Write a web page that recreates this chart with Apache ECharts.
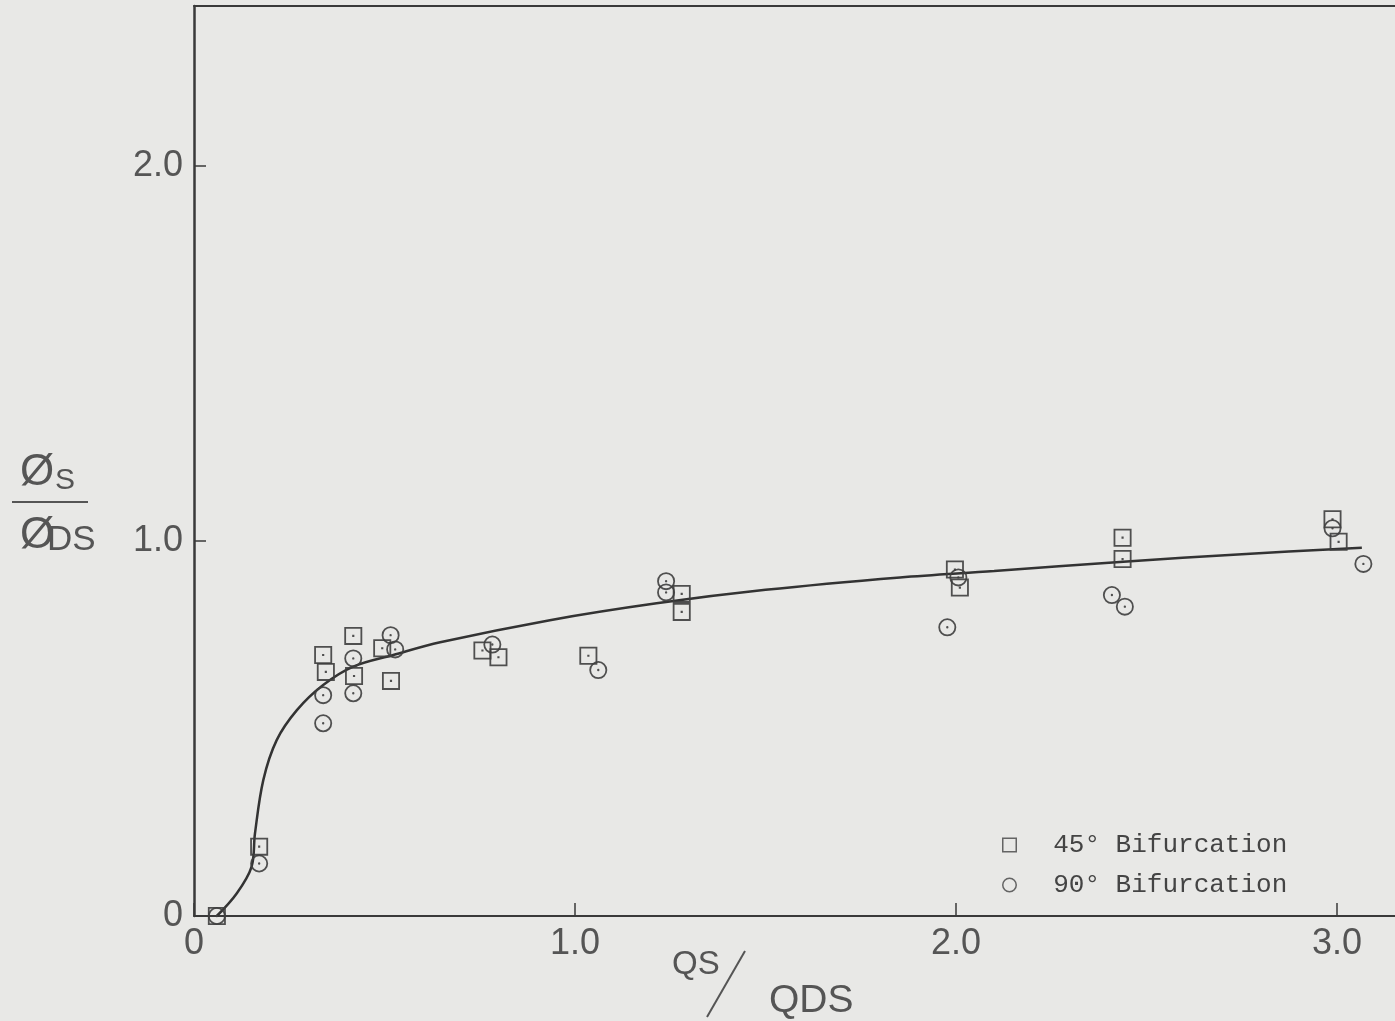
<!DOCTYPE html>
<html>
<head>
<meta charset="utf-8">
<script src="https://cdn.jsdelivr.net/npm/echarts@6/dist/echarts.min.js"></script>
<style>
html,body{margin:0;padding:0;background:#e8e8e6;}
#c{width:1395px;height:1021px;}
</style>
</head>
<body>
<div id="c"></div>
<script>
// ---- data ----
const xTicks = [0, 1.0, 2.0, 3.0];
const yTicks = [0, 1.0, 2.0];
const legendNames = ['45° Bifurcation', '90° Bifurcation'];

// 45° bifurcation (squares): [Qs/Qds, Øs/Øds]
const bif45 = [
  [0.06, 0.0], [0.171, 0.185], [0.339, 0.696], [0.346, 0.651], [0.418, 0.747],
  [0.42, 0.64], [0.494, 0.714], [0.517, 0.627], [0.757, 0.708], [0.799, 0.69],
  [1.035, 0.694], [1.28, 0.859], [1.28, 0.811], [1.997, 0.924], [2.01, 0.876],
  [2.437, 1.009], [2.437, 0.952], [2.988, 1.058], [3.004, 0.998]
];
// 90° bifurcation (circles)
const bif90 = [
  [0.06, 0.0], [0.171, 0.14], [0.339, 0.589], [0.339, 0.514], [0.418, 0.687],
  [0.418, 0.594], [0.516, 0.749], [0.528, 0.711], [0.783, 0.724], [1.061, 0.656],
  [1.239, 0.893], [1.239, 0.863], [2.006, 0.903], [1.977, 0.77], [2.409, 0.856],
  [2.443, 0.825], [2.988, 1.034], [3.069, 0.939]
];
// hand-drawn fitted curve
const curveX = [0.06, 0.112, 0.151, 0.16, 0.182, 0.217, 0.27, 0.339, 0.418, 0.523, 0.646, 0.934, 1.214, 1.5, 1.853, 2.1, 2.439, 2.75, 3.065];
const curveY = [0.0, 0.06, 0.131, 0.22, 0.363, 0.469, 0.549, 0.616, 0.665, 0.696, 0.73, 0.789, 0.834, 0.87, 0.903, 0.92, 0.945, 0.965, 0.982];

// ---- symbols ----
const ink = '#3a3a3a';
const sqSym = 'path://M0,0 H20 V20 H0 Z M2,2 V18 H18 V2 Z M8.8,8.8 H11.2 V11.2 H8.8 Z';
const ciSym = 'path://M10,0 A10,10 0 1,1 10,20 A10,10 0 1,1 10,0 Z M10,2 A8,8 0 1,0 10,18 A8,8 0 1,0 10,2 Z M10,8.7 A1.3,1.3 0 1,1 10,11.3 A1.3,1.3 0 1,1 10,8.7 Z';
const sqLeg = 'path://M0,0 H20 V20 H0 Z M2,2 V18 H18 V2 Z';
const ciLeg = 'path://M10,0 A10,10 0 1,1 10,20 A10,10 0 1,1 10,0 Z M10,2 A8,8 0 1,0 10,18 A8,8 0 1,0 10,2 Z';

const chart = echarts.init(document.getElementById('c'), null, {renderer: 'canvas'});
const lblFont = 'Liberation Sans';
const tickFmt = v => (Math.abs(v) < 1e-9 ? '0' : v.toFixed(1));
chart.setOption({
  backgroundColor: '#e8e8e6',
  animation: false,
  grid: {left: 194, top: 6, right: 0, bottom: 105},
  xAxis: [{
    type: 'value', min: 0, max: 3.152, interval: 1,
    axisLine: {show: true, onZero: false, lineStyle: {color: ink, width: 2}},
    axisTick: {show: true, inside: true, length: 13, customValues: xTicks, lineStyle: {color: ink, width: 1.5}},
    splitLine: {show: false},
    axisLabel: {margin: 10, color: '#555', fontSize: 36, fontFamily: lblFont, customValues: xTicks, formatter: tickFmt}
  }, {
    type: 'value', position: 'top', min: 0, max: 3.152, interval: 1,
    axisLine: {show: true, onZero: false, lineStyle: {color: ink, width: 2}},
    axisTick: {show: false}, axisLabel: {show: false}, splitLine: {show: false}
  }],
  yAxis: {
    type: 'value', min: 0, max: 2.427, interval: 1,
    axisLine: {show: true, onZero: false, lineStyle: {color: ink, width: 2.5}},
    axisTick: {show: true, inside: true, length: 12, customValues: yTicks, lineStyle: {color: ink, width: 1.5}},
    splitLine: {show: false},
    axisLabel: {margin: 11, color: '#555', fontSize: 36, fontFamily: lblFont, customValues: yTicks, formatter: tickFmt}
  },
  legend: {
    orient: 'vertical', left: 997, top: 827, itemGap: 14, itemWidth: 15, itemHeight: 15,
    textStyle: {fontFamily: 'Liberation Mono', fontSize: 26, color: '#444'},
    formatter: n => '  ' + n,
    data: [
      {name: legendNames[0], icon: sqLeg, itemStyle: {color: '#555'}},
      {name: legendNames[1], icon: ciLeg, itemStyle: {color: '#555'}}
    ]
  },
  series: [
    {
      name: 'curve', type: 'line', smooth: 0.35, showSymbol: false, symbol: 'none',
      data: curveX.map((x, i) => [x, curveY[i]]),
      lineStyle: {color: '#333', width: 2.5}, z: 2, silent: true
    },
    {
      name: legendNames[0], type: 'scatter', data: bif45, symbol: sqSym, symbolSize: 18,
      itemStyle: {color: '#3e3e3e', opacity: 0.9}, z: 3
    },
    {
      name: legendNames[1], type: 'scatter', data: bif90, symbol: ciSym, symbolSize: 18,
      itemStyle: {color: '#3e3e3e', opacity: 0.9}, z: 3
    }
  ],
  graphic: [
    {type: 'text', x: 20, y: 451, style: {text: 'Ø', fontSize: 44, fontFamily: lblFont, fill: '#555'}},
    {type: 'text', x: 55, y: 466, style: {text: 'S', fontSize: 30, fontFamily: lblFont, fill: '#555'}},
    {type: 'line', shape: {x1: 12, y1: 502, x2: 88, y2: 502}, style: {stroke: '#555', lineWidth: 2}},
    {type: 'text', x: 20, y: 514, style: {text: 'Ø', fontSize: 44, fontFamily: lblFont, fill: '#555'}},
    {type: 'text', x: 47, y: 523, style: {text: 'DS', fontSize: 35, fontFamily: lblFont, fill: '#555'}},
    {type: 'text', x: 672, y: 948, style: {text: 'QS', fontSize: 33, fontFamily: lblFont, fill: '#555'}},
    {type: 'line', shape: {x1: 745, y1: 951, x2: 707, y2: 1017}, style: {stroke: '#555', lineWidth: 2}},
    {type: 'text', x: 769, y: 982, style: {text: 'QDS', fontSize: 39, fontFamily: lblFont, fill: '#555'}}
  ]
});
</script>
</body>
</html>
